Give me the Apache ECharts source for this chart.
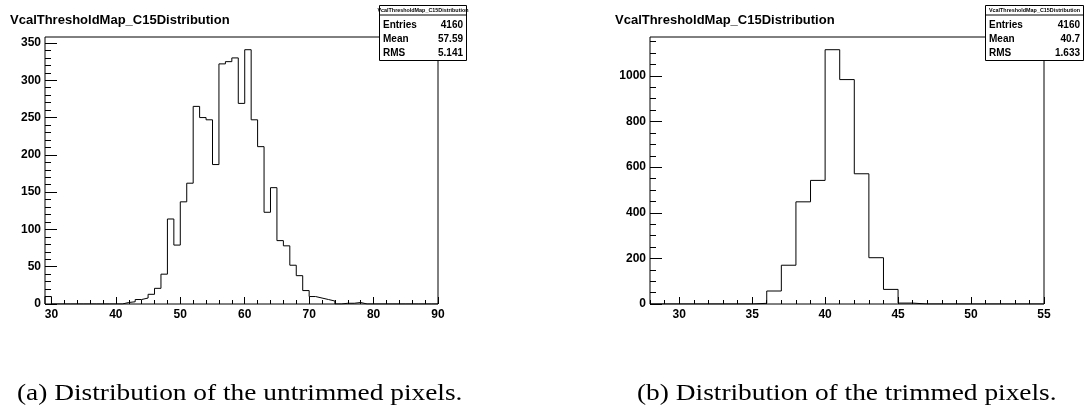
<!DOCTYPE html>
<html>
<head>
<meta charset="utf-8">
<script src="https://cdn.jsdelivr.net/npm/echarts@6/dist/echarts.min.js"></script>
<style>
  html, body { margin: 0; padding: 0; background: #fff; }
  #chart { width: 1086px; height: 410px; }
</style>
</head>
<body>
<div id="chart"></div>
<script>
// Histogram contents: counts per unit-wide bin, starting at the given lower edge
const untrimmedStart = 29;
const untrimmedCounts = [
  10, 0, 0, 0, 0, 0, 0, 0, 0, 0, 0, 0,
  2, 3, 6, 8, 13, 21, 40, 114, 79, 137,
  162, 265, 250, 247, 187, 322, 325, 330, 269, 341,
  247, 211, 123, 156, 85, 78, 52, 38, 18, 10,
  8, 6, 4, 0, 1, 1, 2,
  0, 0, 0, 0, 0, 0, 0, 0, 0, 0, 0, 0
];
const trimmedStart = 28;
const trimmedCounts = [
  0, 0, 0, 0, 0, 0, 0,
  3, 57, 170, 448, 542, 1115, 984, 571, 203, 64, 4,
  0, 0, 0, 0, 0, 0, 0, 0, 0
];

// Axis ranges and tick labels
const untrimmedXRange = [29, 90];
const trimmedXRange = [28, 55];
const untrimmedXTicks = [30, 40, 50, 60, 70, 80, 90];
const untrimmedYTicks = [0, 50, 100, 150, 200, 250, 300, 350];
const trimmedXTicks = [30, 35, 40, 45, 50, 55];
const trimmedYTicks = [0, 200, 400, 600, 800, 1000];
const untrimmedXMinorStep = 2, untrimmedYMinorStep = 10;
const trimmedXMinorStep = 1, trimmedYMinorStep = 50;

// Statistics box contents
const histName = 'VcalThresholdMap_C15Distribution';
const statLabels = ['Entries', 'Mean', 'RMS'];
const untrimmedStats = ['4160', '57.59', '5.141'];
const trimmedStats = ['4160', '40.7', '1.633'];

// Captions
const captionA = '(a) Distribution of the untrimmed pixels.';
const captionB = '(b) Distribution of the trimmed pixels.';

const SANS = '"Liberation Sans", Arial, Helvetica, sans-serif';
const SERIF = '"Liberation Serif", "Times New Roman", serif';

function outline(start, counts) {
  const pts = [[start, 0]];
  counts.forEach((c, i) => {
    pts.push([start + i, c], [start + i + 1, c]);
  });
  pts.push([start + counts.length, 0]);
  return pts;
}

function minorValues(lo, hi, step, majors) {
  const out = [];
  for (let v = Math.ceil(lo / step) * step; v <= hi + 1e-9; v += step) {
    const r = Math.round(v * 1000) / 1000;
    if (!majors.includes(r)) out.push(r);
  }
  return out;
}

// ROOT-style headroom above the tallest bin
const untrimmedYMax = Math.max(...untrimmedCounts) * 1.05;
const trimmedYMax = Math.max(...trimmedCounts) * 1.05;

const labelStyle = { color: '#000', fontFamily: SANS, fontWeight: 'bold', fontSize: 12, formatter: v => String(v) };

function majorX(grid, range, ticks) {
  return {
    type: 'value', gridIndex: grid, min: range[0], max: range[1], position: 'bottom',
    axisLine: { show: false },
    axisTick: { show: true, inside: true, length: 7, customValues: ticks, lineStyle: { color: '#000', width: 1 } },
    axisLabel: { show: true, customValues: ticks, margin: 5, ...labelStyle },
    splitLine: { show: false }
  };
}
function minorX(grid, range, vals) {
  return {
    type: 'value', gridIndex: grid, min: range[0], max: range[1], position: 'bottom',
    axisLine: { show: false },
    axisTick: { show: true, inside: true, length: 4, customValues: vals, lineStyle: { color: '#000', width: 1 } },
    axisLabel: { show: false },
    splitLine: { show: false }
  };
}
function majorY(grid, max, ticks) {
  return {
    type: 'value', gridIndex: grid, min: 0, max: max, position: 'left',
    axisLine: { show: false },
    axisTick: { show: true, inside: true, length: 12, customValues: ticks, lineStyle: { color: '#000', width: 1 } },
    axisLabel: { show: true, customValues: ticks, margin: 4, ...labelStyle },
    splitLine: { show: false }
  };
}
function minorY(grid, max, vals) {
  return {
    type: 'value', gridIndex: grid, min: 0, max: max, position: 'left',
    axisLine: { show: false },
    axisTick: { show: true, inside: true, length: 6, customValues: vals, lineStyle: { color: '#000', width: 1 } },
    axisLabel: { show: false },
    splitLine: { show: false }
  };
}

// Statistics panel drawn over the top-right corner of each frame
function statBox(x, w, stats) {
  const top = 5.5, h = 55;
  const els = [
    { type: 'rect', shape: { x: x + 0.5, y: top, width: w, height: h },
      style: { fill: '#fff', stroke: '#000', lineWidth: 1 }, z: 100 },
    { type: 'line', shape: { x1: x + 0.5, y1: top + 9.5, x2: x + w + 0.5, y2: top + 9.5 },
      style: { stroke: '#000', lineWidth: 1 }, z: 101 },
    { type: 'text', x: x + w / 2 + 0.5, y: top + 5,
      style: { text: histName, fill: '#000', font: 'bold 5.4px ' + SANS, align: 'center', verticalAlign: 'middle' }, z: 101 }
  ];
  statLabels.forEach((lab, i) => {
    const y = 25 + i * 14;
    els.push({ type: 'text', x: x + 4, y: y,
      style: { text: lab, fill: '#000', font: 'bold 10px ' + SANS, align: 'left', verticalAlign: 'middle' }, z: 101 });
    els.push({ type: 'text', x: x + w - 3, y: y,
      style: { text: stats[i], fill: '#000', font: 'bold 10px ' + SANS, align: 'right', verticalAlign: 'middle' }, z: 101 });
  });
  return els;
}

function caption(x, text) {
  return { type: 'text', x: x, y: 394, scaleX: 1.19, scaleY: 1,
    style: { text: text, fill: '#000', font: '23px ' + SERIF, verticalAlign: 'middle' } };
}

const chart = echarts.init(document.getElementById('chart'), null, { renderer: 'canvas' });

const option = {
  animation: false,
  backgroundColor: '#fff',
  grid: [
    { left: 45, top: 37, width: 393, height: 267, show: true, borderColor: '#000', borderWidth: 1, backgroundColor: 'transparent' },
    { left: 650, top: 37, width: 394, height: 267, show: true, borderColor: '#000', borderWidth: 1, backgroundColor: 'transparent' }
  ],
  xAxis: [
    majorX(0, untrimmedXRange, untrimmedXTicks),
    minorX(0, untrimmedXRange, minorValues(untrimmedXRange[0], untrimmedXRange[1], untrimmedXMinorStep, untrimmedXTicks)),
    majorX(1, trimmedXRange, trimmedXTicks),
    minorX(1, trimmedXRange, minorValues(trimmedXRange[0], trimmedXRange[1], trimmedXMinorStep, trimmedXTicks))
  ],
  yAxis: [
    majorY(0, untrimmedYMax, untrimmedYTicks),
    minorY(0, untrimmedYMax, minorValues(0, untrimmedYMax, untrimmedYMinorStep, untrimmedYTicks)),
    majorY(1, trimmedYMax, trimmedYTicks),
    minorY(1, trimmedYMax, minorValues(0, trimmedYMax, trimmedYMinorStep, trimmedYTicks))
  ],
  series: [
    { type: 'line', xAxisIndex: 0, yAxisIndex: 0, data: outline(untrimmedStart, untrimmedCounts),
      showSymbol: false, symbol: 'none', lineStyle: { color: '#000', width: 1 }, silent: true, z: 5 },
    { type: 'line', xAxisIndex: 2, yAxisIndex: 2, data: outline(trimmedStart, trimmedCounts),
      showSymbol: false, symbol: 'none', lineStyle: { color: '#000', width: 1 }, silent: true, z: 5 }
  ],
  graphic: [
    { type: 'text', x: 10, y: 20, style: { text: histName, fill: '#000', font: 'bold 13px ' + SANS, verticalAlign: 'middle' } },
    { type: 'text', x: 615, y: 20, style: { text: histName, fill: '#000', font: 'bold 13px ' + SANS, verticalAlign: 'middle' } },
    ...statBox(379, 87, untrimmedStats),
    ...statBox(985, 98, trimmedStats),
    caption(17, captionA),
    caption(637, captionB)
  ]
};

chart.setOption(option);
</script>
</body>
</html>
